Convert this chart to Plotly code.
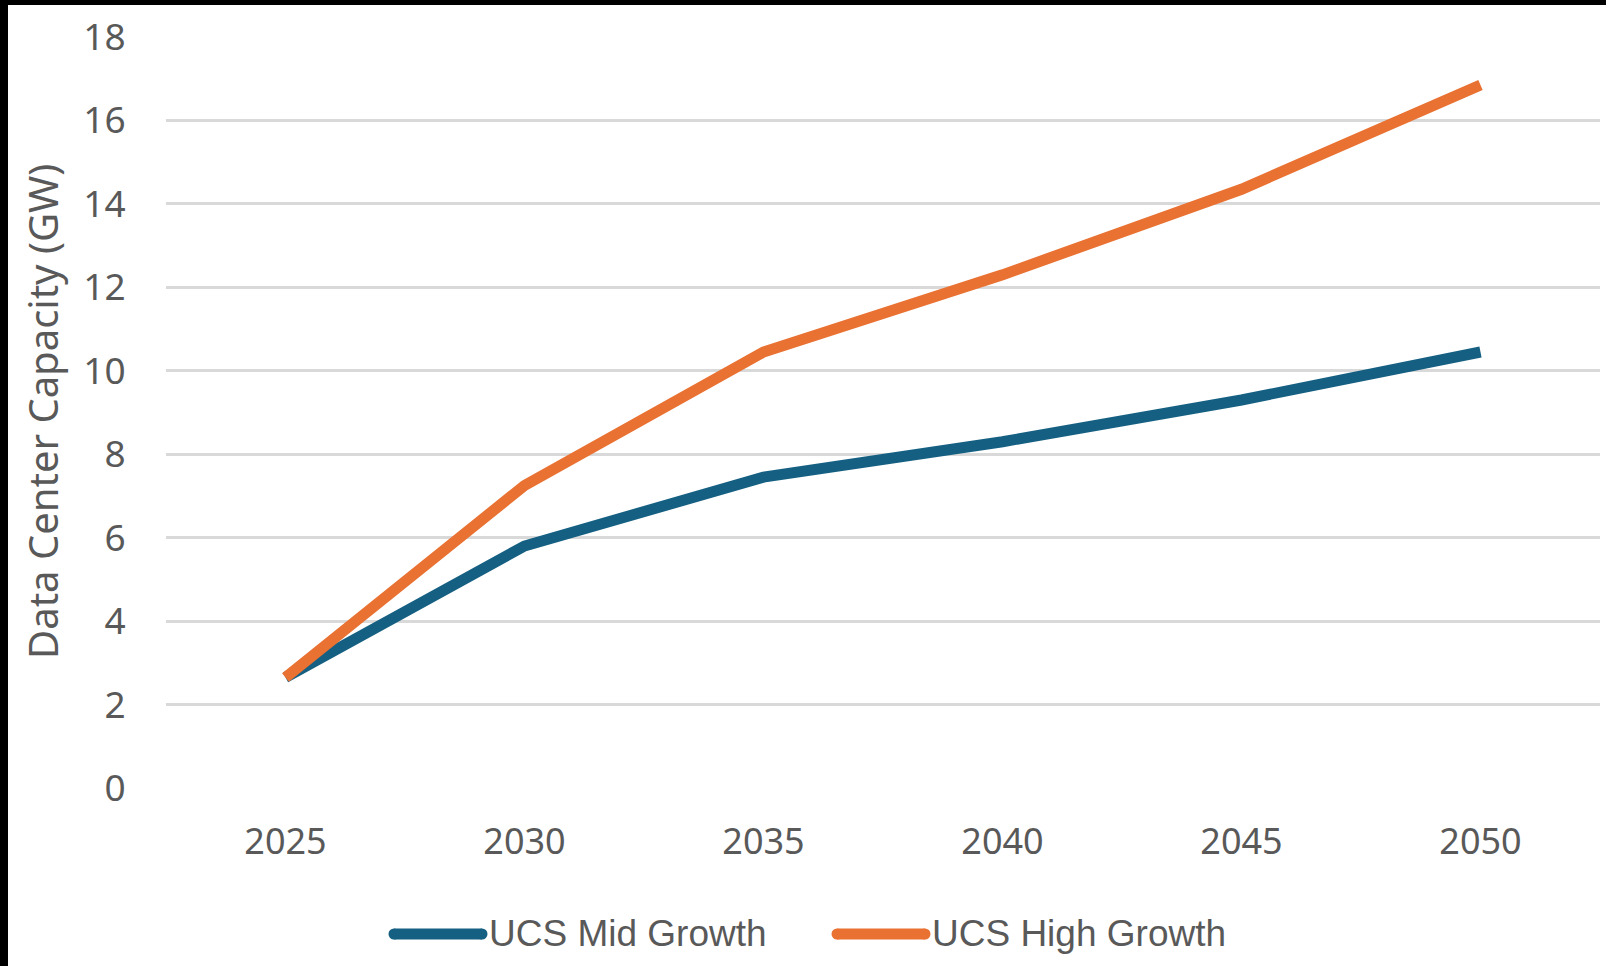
import plotly.graph_objects as go

# Projected data center capacity (GW) by scenario
years = [2025, 2030, 2035, 2040, 2045, 2050]
mid_growth = [2.65, 5.8, 7.45, 8.3, 9.3, 10.45]
high_growth = [2.65, 7.25, 10.45, 12.3, 14.35, 16.85]
series_names = ["UCS Mid Growth", "UCS High Growth"]
y_ticks = [0, 2, 4, 6, 8, 10, 12, 14, 16, 18]

BLUE = "#156082"
ORANGE = "#E97132"
TEXT = "#595959"
GRID = "#D9D9D9"

W, H = 1606, 966
L, R, T, B = 166, 6, 37, 178
PW, PH = W - L - R, H - T - B


def px(x):
    return (x - L) / PW


def py(y):
    return (H - B - y) / PH


fig = go.Figure()
fig.add_trace(go.Scatter(x=years, y=mid_growth, mode="lines", name=series_names[0],
                         line=dict(color=BLUE, width=11), showlegend=False))
fig.add_trace(go.Scatter(x=years, y=high_growth, mode="lines", name=series_names[1],
                         line=dict(color=ORANGE, width=11), showlegend=False))

font_family = "Noto Sans, Liberation Sans, sans-serif"

fig.update_layout(
    width=W, height=H,
    margin=dict(l=L, r=R, t=T, b=B),
    paper_bgcolor="white", plot_bgcolor="white",
    font=dict(family=font_family, color=TEXT, size=36),
    xaxis=dict(range=[2022.5, 2052.5], tickvals=years, ticktext=[str(y) for y in years],
               showgrid=False, zeroline=False, showline=False,
               ticks="outside", ticklen=22, tickcolor="rgba(0,0,0,0)",
               tickfont=dict(size=36, color=TEXT)),
    yaxis=dict(range=[0, 18], tickvals=y_ticks, showgrid=True, gridcolor=GRID, gridwidth=3,
               zeroline=False, showline=False,
               ticks="outside", ticklen=32, tickcolor="rgba(0,0,0,0)",
               tickfont=dict(size=37, color=TEXT)),
)

# Axis title
fig.add_annotation(x=px(43), y=py(412), xref="paper", yref="paper",
                   text="Data Center Capacity (GW)", textangle=-90, showarrow=False,
                   xanchor="center", yanchor="middle",
                   font=dict(size=40, color=TEXT, family=font_family))

# Legend drawn below the plot
legend_y = 934
for name, color, x0, x1 in [(series_names[0], BLUE, 394, 482), (series_names[1], ORANGE, 837, 925)]:
    fig.add_shape(type="line", xref="paper", yref="paper",
                  x0=px(x0), x1=px(x1), y0=py(legend_y), y1=py(legend_y),
                  line=dict(color=color, width=11))
    for xc in (x0, x1):
        fig.add_shape(type="circle", xref="paper", yref="paper",
                      xsizemode="pixel", ysizemode="pixel",
                      xanchor=px(xc), yanchor=py(legend_y),
                      x0=-5.5, x1=5.5, y0=-5.5, y1=5.5,
                      fillcolor=color, line=dict(width=0))
    fig.add_annotation(x=px(x1 + 5), y=py(legend_y), xref="paper", yref="paper",
                       text=name, showarrow=False, xanchor="left", yanchor="middle",
                       font=dict(size=37, color=TEXT, family="Liberation Sans, sans-serif"))

# Dark frame strips along the top and left edges
fig.add_shape(type="rect", xref="paper", yref="paper", x0=px(0), x1=px(W), y0=py(5), y1=py(0),
              fillcolor="black", line=dict(width=0), layer="above")
fig.add_shape(type="rect", xref="paper", yref="paper", x0=px(0), x1=px(8), y0=py(H), y1=py(0),
              fillcolor="black", line=dict(width=0), layer="above")

fig.write_html("out.html")
